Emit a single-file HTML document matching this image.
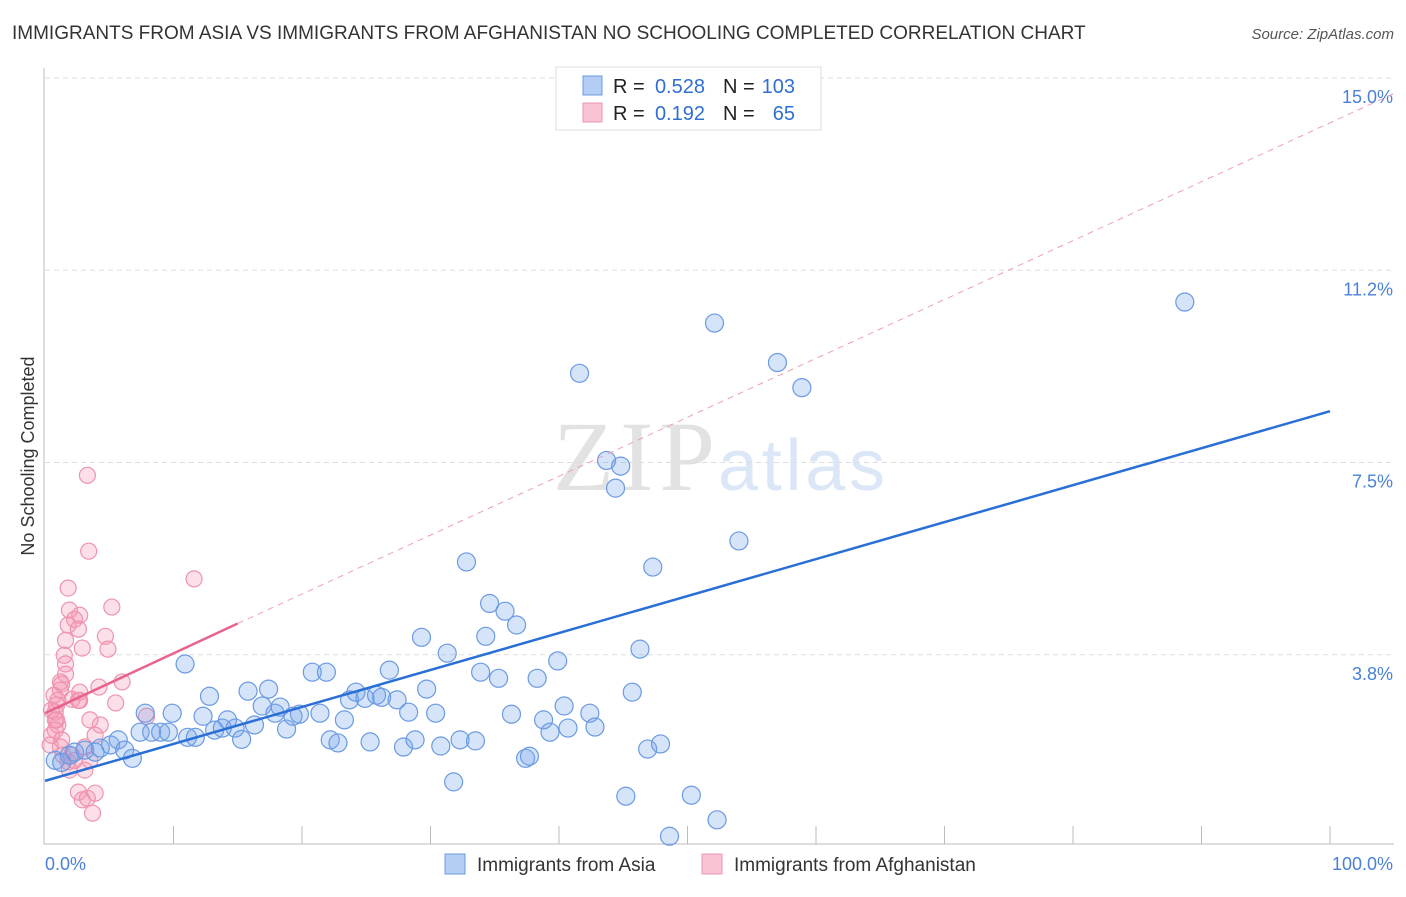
<!DOCTYPE html>
<html><head><meta charset="utf-8"><style>
body{margin:0;background:#fff;font-family:"Liberation Sans",sans-serif;}
</style></head><body>
<svg id="chart" width="1406" height="892" xmlns="http://www.w3.org/2000/svg">
<text x="12" y="39" font-size="19" fill="#333">IMMIGRANTS FROM ASIA VS IMMIGRANTS FROM AFGHANISTAN NO SCHOOLING COMPLETED CORRELATION CHART</text>
<text x="1394" y="39" font-size="15" fill="#555" font-style="italic" text-anchor="end">Source: ZipAtlas.com</text>
<text x="34" y="456" font-size="18" fill="#333" text-anchor="middle" transform="rotate(-90 34 456)">No Schooling Completed</text>
<text x="553" y="490" font-size="100" fill="#e2e2e2" font-family="Liberation Serif,serif" textLength="162">ZIP</text>
<text x="718" y="490" font-size="72" fill="#dbe6f6" textLength="167">atlas</text>
<g id="grid"></g>
<g id="axes"></g>
<g id="pts"></g>
<g id="lines"></g>
<g font-size="20">
<rect x="556" y="67" width="265" height="63" fill="#fff" stroke="#ddd"/>
<rect x="583" y="76" width="19" height="19" fill="#b3cdf5" stroke="#6b9be0"/>
<rect x="583" y="103" width="19" height="19" fill="#f9c3d3" stroke="#ec93ad"/>
<text x="613" y="93" fill="#222">R =</text>
<text x="705" y="93" fill="#2f6fd0" text-anchor="end">0.528</text>
<text x="723" y="93" fill="#222">N =</text>
<text x="795" y="93" fill="#2f6fd0" text-anchor="end">103</text>
<text x="613" y="120" fill="#222">R =</text>
<text x="705" y="120" fill="#2f6fd0" text-anchor="end">0.192</text>
<text x="723" y="120" fill="#222">N =</text>
<text x="795" y="120" fill="#2f6fd0" text-anchor="end">65</text>
</g>
<g>
<rect x="445" y="854" width="20" height="20" fill="#b3cdf5" stroke="#6b9be0"/>
<text x="477" y="871" font-size="19" fill="#333">Immigrants from Asia</text>
<rect x="702" y="854" width="20" height="20" fill="#f9c3d3" stroke="#ec93ad"/>
<text x="734" y="871" font-size="19" fill="#333">Immigrants from Afghanistan</text>
</g>
</svg>
<script>
const yTicks=[3.75,7.5,11.25,15];
const yTickLabels=["3.8%","7.5%","11.2%","15.0%"];
const xEndLabels=["0.0%","100.0%"];
const asiaX=[0.8,1.3,1.9,2.3,3.1,3.9,4.3,5.1,5.7,6.2,6.8,7.4,7.8,8.3,9,9.6,9.9,10.9,11.1,11.7,12.3,12.8,13.2,13.8,14.2,14.8,15.3,15.8,16.3,16.9,17.4,17.9,18.3,18.8,19.3,19.8,20.8,21.4,21.9,22.2,22.8,23.3,23.7,24.2,24.9,25.3,25.8,26.2,26.8,27.4,27.9,28.3,28.8,29.3,29.7,30.4,30.8,31.3,31.8,32.3,32.8,33.5,33.9,34.3,34.6,35.3,35.8,36.3,36.7,37.4,37.7,38.3,38.8,39.3,39.9,40.4,40.7,41.6,42.4,42.8,43.7,44.4,44.8,45.2,45.7,46.3,46.9,47.3,47.9,48.6,50.3,52.1,52.3,54,57,58.9,88.7];
const asiaY=[1.69,1.65,1.79,1.85,1.89,1.85,1.93,1.99,2.09,1.89,1.73,2.24,2.61,2.24,2.24,2.24,2.61,3.57,2.14,2.14,2.55,2.94,2.28,2.32,2.48,2.32,2.1,3.04,2.38,2.75,3.08,2.61,2.73,2.3,2.55,2.59,3.41,2.61,3.41,2.09,2.03,2.48,2.87,3.02,2.9,2.05,2.96,2.92,3.45,2.87,1.95,2.63,2.09,4.09,3.08,2.61,1.97,3.78,1.27,2.09,5.56,2.07,3.41,4.11,4.75,3.29,4.6,2.59,4.33,1.73,1.77,3.29,2.48,2.24,3.63,2.75,2.32,9.24,2.61,2.34,7.54,7,7.43,0.99,3.02,3.86,1.91,5.46,2.01,0.21,1.01,10.22,0.53,5.97,9.45,8.96,10.63];
const afgX=[0.4,0.5,0.8,0.8,0.9,1,1.2,1.3,1.5,1.6,1.8,1.9,1.6,1,0.8,1.2,1.4,1.8,2.1,2.3,2.6,2.7,2.9,3.1,3.3,3.4,3.5,3.9,4.2,2.1,1.8,2.3,2.6,2.7,4.7,4.9,5.2,5.5,6,2.6,2.9,3.3,3.7,3.9,3.1,4.3,11.6,7.9,1.6,1.2,0.9,0.5,0.7,2.7,3.5,1.9,1.3];
const afgY=[1.99,2.18,2.48,2.63,2.77,2.86,3.06,3.18,3.74,4.03,4.33,4.62,3.37,2.38,2.28,1.95,1.79,1.66,1.79,1.69,2.86,4.52,3.88,1.95,7.25,5.77,2.48,2.18,3.12,2.88,5.05,4.44,4.25,2.86,4.11,3.86,4.68,2.81,3.22,1.07,0.92,0.95,0.66,1.05,1.5,2.38,5.23,2.55,3.57,3.22,2.48,2.67,2.96,3.02,1.69,1.5,2.09];
const asiaLine=[[0,1.29],[100,8.5]];
const afgLine=[[0,2.61],[15,4.36]];
const afgDash=[[15,4.36],[105,14.7]];
const NS='http://www.w3.org/2000/svg';
const X0=45,X1=1330,Y0=847,YTOP=78;
const sx=v=>X0+(X1-X0)*v/100;
const sy=v=>Y0-(Y0-YTOP)*v/15;
function mk(tag,attrs,parent){const e=document.createElementNS(NS,tag);for(const k in attrs)e.setAttribute(k,attrs[k]);document.getElementById(parent).appendChild(e);return e;}
yTicks.forEach((t,i)=>{
 const g=mk('line',{x1:45,x2:1394,y1:sy(t),y2:sy(t),stroke:'#ddd','stroke-dasharray':'5,4'},'grid');
 
 
 const l=mk('text',{x:1393,y:sy(t)+25,'font-size':18,fill:'#4a80d8','text-anchor':'end'},'grid');
 l.textContent=yTickLabels[i];
 
 
});
let ax=mk('line',{x1:44,x2:44,y1:68,y2:844,stroke:'#bbb'},'axes');


ax=mk('line',{x1:44,x2:1394,y1:844,y2:844,stroke:'#bbb'},'axes');


for(let i=1;i<=10;i++){const t=mk('line',{x1:sx(i*10),x2:sx(i*10),y1:826,y2:844,stroke:'#bbb'},'axes');
 
 }
let tl=mk('text',{x:45,y:870,'font-size':18,fill:'#4a80d8'},'axes');tl.textContent=xEndLabels[0];


tl=mk('text',{x:1393,y:870,'font-size':18,fill:'#4a80d8','text-anchor':'end'},'axes');tl.textContent=xEndLabels[1];


afgX.forEach((v,i)=>{const c=mk('circle',{cx:sx(v),cy:sy(afgY[i]),r:8,fill:'rgba(244,150,178,0.3)',stroke:'#ee94ad','stroke-width':1.2},'pts');
 
 });
asiaX.forEach((v,i)=>{const c=mk('circle',{cx:sx(v),cy:sy(asiaY[i]),r:9,fill:'rgba(120,165,235,0.3)',stroke:'#6a9ae2','stroke-width':1.2},'pts');
 
 });
let ln=mk('line',{x1:sx(asiaLine[0][0]),y1:sy(asiaLine[0][1]),x2:sx(asiaLine[1][0]),y2:sy(asiaLine[1][1]),stroke:'#2a6fd6','stroke-width':2.5},'lines');


ln=mk('line',{x1:sx(afgDash[0][0]),y1:sy(afgDash[0][1]),x2:sx(afgDash[1][0]),y2:sy(afgDash[1][1]),stroke:'#eaa0b5','stroke-width':1,'stroke-dasharray':'6,5'},'lines');


ln=mk('line',{x1:sx(afgLine[0][0]),y1:sy(afgLine[0][1]),x2:sx(afgLine[1][0]),y2:sy(afgLine[1][1]),stroke:'#e8648c','stroke-width':2.5},'lines');


</script>
</body></html>
